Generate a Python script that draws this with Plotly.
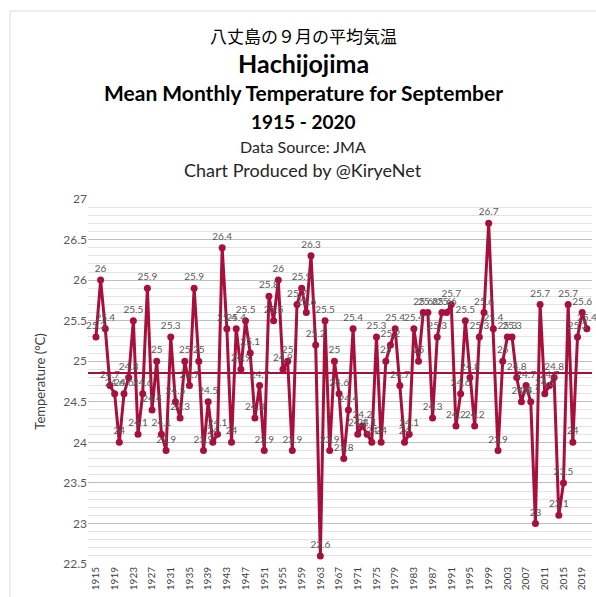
import plotly.graph_objects as go

years = list(range(1915, 2021))
temps = [
    25.3, 26.0, 25.4, 24.7, 24.6, 24.0, 24.6, 24.8, 25.5, 24.1,   # 1915-1924
    24.6, 25.9, 24.4, 25.0, 24.1, 23.9, 25.3, 24.5, 24.3, 25.0,   # 1925-1934
    24.7, 25.9, 25.0, 23.9, 24.5, 24.0, 24.1, 26.4, 25.4, 24.0,   # 1935-1944
    25.4, 24.9, 25.5, 25.1, 24.3, 24.7, 23.9, 25.8, 25.5, 26.0,   # 1945-1954
    24.9, 25.0, 23.9, 25.7, 25.9, 25.6, 26.3, 25.2, 22.6, 25.5,   # 1955-1964
    23.9, 25.0, 24.6, 23.8, 24.4, 25.4, 24.1, 24.2, 24.1, 24.0,   # 1965-1974
    25.3, 24.0, 25.0, 25.2, 25.4, 24.7, 24.0, 24.1, 25.4, 25.0,   # 1975-1984
    25.6, 25.6, 24.3, 25.3, 25.6, 25.6, 25.7, 24.2, 24.6, 25.5,   # 1985-1994
    24.8, 24.2, 25.3, 25.6, 26.7, 25.4, 23.9, 25.0, 25.3, 25.3,   # 1995-2004
    24.8, 24.5, 24.7, 24.5, 23.0, 25.7, 24.6, 24.7, 24.8, 23.1,   # 2005-2014
    23.5, 25.7, 24.0, 25.3, 25.6, 25.4,                           # 2015-2020
]
assert len(temps) == len(years)
mean_temp = sum(temps) / len(temps)

tick_years = list(range(1915, 2020, 4))
y_ticks = [22.5, 23, 23.5, 24, 24.5, 25, 25.5, 26, 26.5, 27]
y_tick_text = ["22.5", "23", "23.5", "24", "24.5", "25", "25.5", "26", "26.5", "27"]

title_lines = [
    ("八丈島の９月の平均気温", 17, False, "Noto Sans CJK JP", 35),
    ("Hachijojima", 25, True, "Lato", 63),
    ("Mean Monthly Temperature for September", 21, True, "Lato", 92),
    ("1915 - 2020", 19, True, "Lato", 121),
    ("Data Source: JMA", 16, False, "Lato", 147),
    ("Chart Produced by @KiryeNet", 18, False, "Lato", 170),
]

RED = "#A6103B"

fig = go.Figure()
fig.add_trace(go.Scatter(
    x=years, y=temps, mode="lines+markers+text",
    line=dict(color=RED, width=3),
    marker=dict(color=RED, size=7),
    text=[("%g" % v) for v in temps],
    textposition="top center",
    textfont=dict(family="Lato", size=10, color="#595959"),
    cliponaxis=False,
    hoverinfo="x+y",
))

H = 596 + 1
M_L, M_R = 88, 4
M_T, M_B = 199, 33
plot_w = 596 - M_L - M_R
plot_h = H - M_T - M_B
TITLE_CX = 303

annotations = []
for text, size, bold, fam, ypix in title_lines:
    annotations.append(dict(
        text=("<b>%s</b>" % text) if bold else text,
        x=(TITLE_CX - M_L) / plot_w, xref="paper", xanchor="center",
        y=1 + (M_T - ypix) / plot_h, yref="paper", yanchor="middle",
        showarrow=False,
        font=dict(family=fam, size=size, color="#000000" if bold or fam != "Lato" else "#262626"),
    ))

fig.update_layout(
    width=596, height=H,
    margin=dict(l=M_L, r=M_R, t=M_T, b=M_B),
    paper_bgcolor="white", plot_bgcolor="white",
    showlegend=False,
    annotations=annotations,
    shapes=[
        dict(type="line", xref="paper", x0=0, x1=1, yref="y", y0=mean_temp, y1=mean_temp,
             line=dict(color=RED, width=2)),
        dict(type="rect", xref="paper", yref="paper",
             x0=-(M_L - 10) / plot_w, x1=1.2, y0=-0.2, y1=1 + (M_T - 11) / plot_h,
             line=dict(color="#D9D9D9", width=1), layer="below"),
    ],
    xaxis=dict(
        range=[1913.3, 2021.1],
        tickmode="array", tickvals=tick_years, ticktext=[str(y) for y in tick_years],
        tickangle=-90, tickfont=dict(family="Lato", size=10, color="#404040"),
        showgrid=False, zeroline=False, showline=False, ticks="",
    ),
    yaxis=dict(
        range=[22.5, 27],
        tickmode="array", tickvals=y_ticks, ticktext=y_tick_text,
        tickfont=dict(family="Lato", size=12, color="#595959"),
        gridcolor="#BFBFBF", gridwidth=1,
        minor=dict(dtick=0.1, showgrid=True, gridcolor="#E3E3E3", gridwidth=1),
        zeroline=False, showline=False, ticks="",
        title=dict(text="Temperature (°C)", font=dict(family="Lato", size=13, color="#404040"), standoff=14),
    ),
)

fig.write_html("out.html", config={"displayModeBar": False},
               post_script="document.body.style.margin='0';document.body.style.overflow='hidden';")
